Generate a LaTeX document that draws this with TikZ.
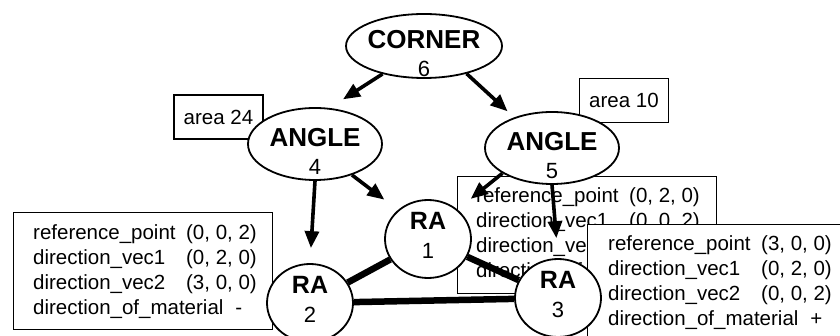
\documentclass[tikz,border=0pt]{standalone}
\usepackage{fontspec}
\setmainfont{Liberation Sans}
\usetikzlibrary{shapes.geometric,arrows.meta}
\begin{document}
\begin{tikzpicture}[x=1pt,y=-1pt,
  every node/.style={inner sep=0pt},
  shapeell/.style={ellipse, draw, line width=1.8pt, fill=white},
  bigell/.style={shapeell, minimum width=134pt, minimum height=72pt},
  raell/.style={shapeell, minimum width=86pt, minimum height=78pt},
  bigtitle/.style={anchor=base, font=\fontsize{26}{29}\selectfont\bfseries},
  ratitle/.style={anchor=base, font=\fontsize{25}{30}\selectfont\bfseries},
  numtext/.style={anchor=base, font=\fontsize{22}{29}\selectfont},
  infobox/.style={draw, line width=1.2pt, fill=white, anchor=north west,
    minimum width=259pt, minimum height=117pt},
  infotext/.style={anchor=base west, font=\fontsize{20.5}{25}\selectfont},
  areabox/.style={draw, line width=1.1pt, fill=white,
    minimum width=89pt, minimum height=44pt,
    font=\fontsize{20.5}{25}\selectfont},
  arr/.style={line width=3.6pt, -{Triangle[length=17pt,width=14pt]}},
  link/.style={line width=6.5pt},
]
\useasboundingbox (0,0) rectangle (840,336);
\clip (0,0) rectangle (840,336);

% attribute boxes
\node[areabox] (area4) at (218.5,117) {area 24};
\node[areabox] (area5) at (624,100.5) {area 10};

\node[infobox] (box1) at (457,176) {};
\node[infotext] (box1text) at (476,203) {\begin{tabular}[t]{@{}l@{}}
  \makebox[153pt][l]{reference\_point}(0, 2, 0)\\
  \makebox[153pt][l]{direction\_vec1}(0, 0, 2)\\
  direction\_vec2\\
  direction\_of\_material
\end{tabular}};

\node[infobox] (box3) at (587,224) {};
\node[infotext] (box3text) at (608,251) {\begin{tabular}[t]{@{}l@{}}
  \makebox[153pt][l]{reference\_point}(3, 0, 0)\\
  \makebox[153pt][l]{direction\_vec1}(0, 2, 0)\\
  \makebox[153pt][l]{direction\_vec2}(0, 0, 2)\\
  direction\_of\_material\hspace{12pt}+
\end{tabular}};

\node[infobox] (box2) at (13,212) {};
\node[infotext] (box2text) at (33,240) {\begin{tabular}[t]{@{}l@{}}
  \makebox[153pt][l]{reference\_point}(0, 0, 2)\\
  \makebox[153pt][l]{direction\_vec1}(0, 2, 0)\\
  \makebox[153pt][l]{direction\_vec2}(3, 0, 0)\\
  direction\_of\_material\hspace{12pt}-
\end{tabular}};

% feature nodes
\node[shapeell, minimum width=156pt, minimum height=64pt] (corner) at (424,46) {};
\node[bigtitle] (cornerT) at (424,48.5) {CORNER};
\node[numtext]  (cornerN) at (424,77) {6};

\node[bigell] (angle4) at (315,144) {};
\node[bigtitle] (angle4T) at (315,146.5) {ANGLE};
\node[numtext]  (angle4N) at (315,175) {4};

\node[bigell] (angle5) at (552,148) {};
\node[bigtitle] (angle5T) at (552,150.5) {ANGLE};
\node[numtext]  (angle5N) at (552,179) {5};

\node[raell] (ra1) at (428,239) {};
\node[ratitle] (ra1T) at (428,230) {RA};
\node[numtext] (ra1N) at (428,259) {1};

\node[raell] (ra2) at (310,303) {};
\node[ratitle] (ra2T) at (310,294) {RA};
\node[numtext] (ra2N) at (310,323) {2};

\node[raell] (ra3) at (558,298) {};
\node[ratitle] (ra3T) at (558,289) {RA};
\node[numtext] (ra3N) at (558,318) {3};

% hierarchy arrows
\draw[arr, shorten >=16pt] (corner.214) -- (angle4.68);
\draw[arr, shorten >=9pt]  (corner.327) -- (angle5.141);
\draw[arr, shorten >=17pt] (angle4.320) -- (ra1.136);
\draw[arr, shorten >=15pt] (angle4.south) -- (ra2.north);
\draw[arr, shorten >=17pt] (angle5.207) -- (ra1.45);
\draw[arr, shorten >=20pt] (angle5.south) -- (ra3.north);

% adjacency links
\draw[link] (ra1) -- (ra2);
\draw[link] (ra1) -- (ra3);
\draw[link] (ra2) -- (ra3);
\end{tikzpicture}
\end{document}
